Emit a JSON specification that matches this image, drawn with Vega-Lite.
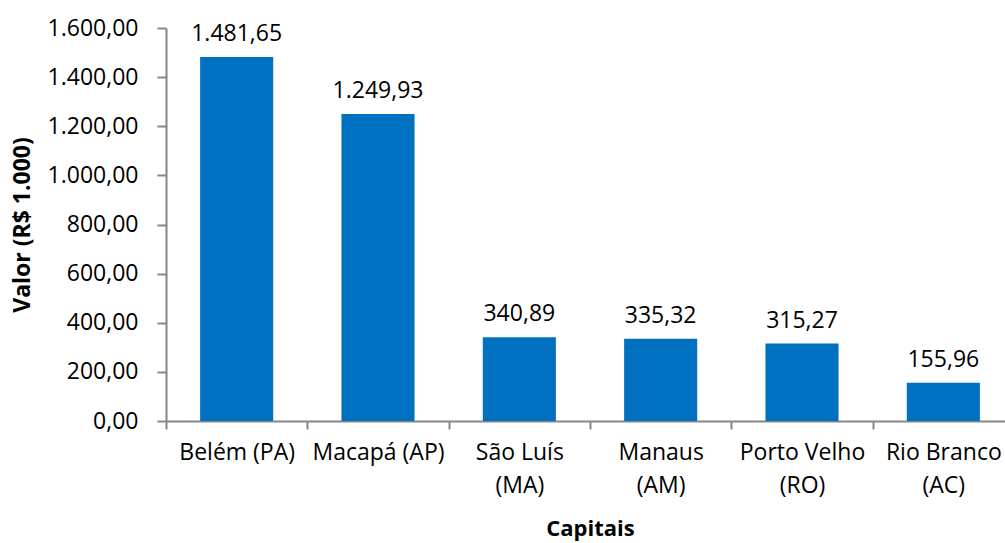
{
  "$schema": "https://vega.github.io/schema/vega-lite/v6.json",
  "autosize": {"type": "none"},
  "padding": {"left": 166, "top": 28, "right": 0, "bottom": 122},
  "width": 848,
  "height": 393,
  "background": "white",
  "config": {
    "locale": {"number": {"decimal": ",", "thousands": ".", "grouping": [3], "currency": ["R$ ", ""]}},
    "font": "Open Sans",
    "view": {"stroke": null}
  },
  "data": {
    "values": [
      {"capital": "Belém (PA)", "valor": 1481.65},
      {"capital": "Macapá (AP)", "valor": 1249.93},
      {"capital": "São Luís (MA)", "valor": 340.89},
      {"capital": "Manaus (AM)", "valor": 335.32},
      {"capital": "Porto Velho (RO)", "valor": 315.27},
      {"capital": "Rio Branco (AC)", "valor": 155.96}
    ]
  },
  "encoding": {
    "x": {
      "field": "capital", "type": "nominal", "sort": null,
      "scale": {"paddingInner": 0, "paddingOuter": 0},
      "axis": {
        "title": "Capitais", "titleFont": "Open Sans", "titleFontSize": 22, "titleFontWeight": "bold", "titleColor": "black",
        "titleY": 107, "titleBaseline": "middle",
        "labelAngle": 0, "labelFontSize": 23, "labelColor": "black", "labelPadding": 12, "labelLineHeight": 33,
        "labelExpr": "datum.label == 'Belém (PA)' || datum.label == 'Macapá (AP)' ? datum.label : [slice(datum.label, 0, indexof(datum.label, ' (')), slice(datum.label, indexof(datum.label, ' (') + 1)]",
        "tickBand": "extent", "tickSize": 8, "tickColor": "#868686", "tickWidth": 2,
        "domainColor": "#868686", "domainWidth": 2, "labelBound": false, "labelOverlap": false
      }
    }
  },
  "layer": [
    {
      "mark": {"type": "bar", "color": "#0070C0", "width": {"band": 0.517}},
      "encoding": {
        "y": {
          "field": "valor", "type": "quantitative",
          "scale": {"domain": [0, 1600], "nice": false},
          "axis": {
            "title": "Valor (R$ 1.000)", "titleFont": "Open Sans", "titleFontSize": 23, "titleFontWeight": "bold", "titleColor": "black",
            "titleX": -144, "titleBaseline": "middle",
            "values": [0, 200, 400, 600, 800, 1000, 1200, 1400, 1600],
            "format": ",.2f", "labelFontSize": 23, "labelColor": "black", "labelPadding": 19,
            "tickSize": 9, "tickColor": "#868686", "tickWidth": 2,
            "domainColor": "#868686", "domainWidth": 2, "grid": false
          }
        }
      }
    },
    {
      "mark": {"type": "text", "fontSize": 23, "color": "black", "baseline": "bottom", "dy": -11},
      "encoding": {
        "y": {"field": "valor", "type": "quantitative"},
        "text": {"field": "valor", "type": "quantitative", "format": ",.2f"}
      }
    }
  ]
}
